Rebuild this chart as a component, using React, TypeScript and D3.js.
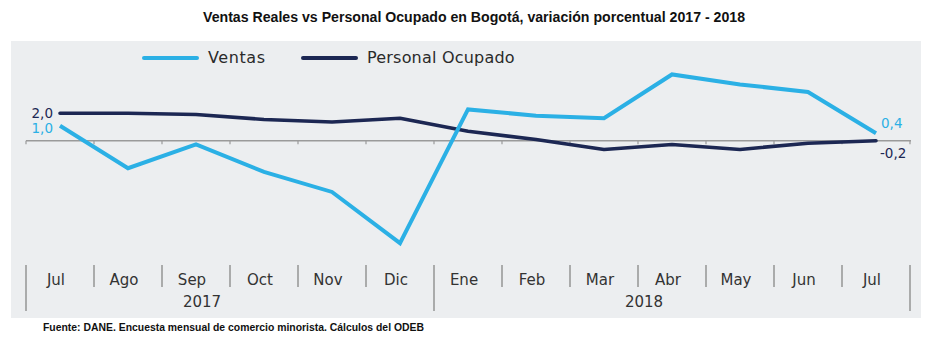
import React from "react";
import * as d3 from "d3";

const months = ["Jul", "Ago", "Sep", "Oct", "Nov", "Dic", "Ene", "Feb", "Mar", "Abr", "May", "Jun", "Jul"];
const monthKeys = months.map((m, i) => `${m}-${i}`);
const years = [
  { label: "2017", from: 0, to: 5 },
  { label: "2018", from: 6, to: 12 },
];
const ventas = [1.0, -2.4, -0.5, -2.7, -4.3, -8.4, 2.3, 1.8, 1.6, 5.1, 4.3, 3.7, 0.4];
const personal = [2.0, 2.0, 1.9, 1.5, 1.3, 1.6, 0.55, -0.1, -0.9, -0.5, -0.9, -0.4, -0.2];
const axisValue = -0.2;

const W = 934;
const H = 337;
const BLUE = "#2bb0e5";
const NAVY = "#1c2753";
const GRAY = "#9a9a9a";
const FONT = "'DejaVu Sans', sans-serif";
const fmt = (v: number) => d3.format(".1f")(v).replace(".", ",").replace("\u2212", "-");

export default function App() {
  const x = d3.scaleBand<string>().domain(monthKeys).range([26, 910]).padding(0);
  const bw = x.bandwidth();
  const cx = (i: number) => (x(monthKeys[i]) as number) + bw / 2;
  const y = d3.scaleLinear().domain([-8.4, 5.1]).range([243.2, 74.45]);

  const line = d3
    .line<number>()
    .x((_, i) => cx(i))
    .y((d) => y(d));

  const axisY = y(axisValue);
  const boundaries = d3.range(months.length + 1).map((i) => 26 + i * bw);
  const longSeps = [0, 6, 13];

  return (
    <svg width={W} height={H} style={{ position: "absolute", left: 0, top: 0 }}>
      <rect x={0} y={0} width={W} height={H} fill="#ffffff" />
      <text
        x={474}
        y={22}
        textAnchor="middle"
        fontFamily="'Liberation Sans Narrow', 'Liberation Sans', sans-serif"
        fontWeight="bold"
        fontSize={14}
        fill="#111"
        textLength={542}
        lengthAdjust="spacingAndGlyphs"
      >
        Ventas Reales vs Personal Ocupado en Bogotá, variación porcentual 2017 - 2018
      </text>
      <rect x={11} y={41} width={910} height={277} fill="#eceef0" />

      {/* legend */}
      <line x1={144} x2={197} y1={58} y2={58} stroke={BLUE} strokeWidth={4} strokeLinecap="round" />
      <text x={208} y={63} fontFamily={FONT} fontSize={16} fill="#2a2a2a" letterSpacing={0.6}>
        Ventas
      </text>
      <line x1={303} x2={356} y1={58} y2={58} stroke={NAVY} strokeWidth={4} strokeLinecap="round" />
      <text x={367} y={63} fontFamily={FONT} fontSize={16} fill="#2a2a2a" letterSpacing={0.2}>
        Personal Ocupado
      </text>

      {/* axis line */}
      <line x1={26} x2={911} y1={axisY} y2={axisY} stroke={GRAY} strokeWidth={1.5} />
      {boundaries.map((bx, i) => (
        <line key={`t${i}`} x1={bx} x2={bx} y1={axisY} y2={axisY + 3.5} stroke={GRAY} strokeWidth={1.2} />
      ))}

      {/* lines */}
      <path d={line(personal) || ""} fill="none" stroke={NAVY} strokeWidth={3.6} strokeLinejoin="round" strokeLinecap="round" />
      <path d={line(ventas) || ""} fill="none" stroke={BLUE} strokeWidth={4} strokeLinejoin="miter" strokeLinecap="butt" />

      {/* value labels */}
      <text x={53} y={118} textAnchor="end" fontFamily={FONT} fontSize={13.5} fill={NAVY}>
        {fmt(personal[0])}
      </text>
      <text x={53} y={133} textAnchor="end" fontFamily={FONT} fontSize={13.5} fill={BLUE}>
        {fmt(ventas[0])}
      </text>
      <text x={881} y={128} fontFamily={FONT} fontSize={13.5} fill={BLUE}>
        {fmt(ventas[12])}
      </text>
      <text x={880} y={158} fontFamily={FONT} fontSize={13.5} fill={NAVY}>
        {fmt(personal[12])}
      </text>

      {/* category axis */}
      {boundaries.map((bx, i) => (
        <line
          key={`s${i}`}
          x1={bx}
          x2={bx}
          y1={265}
          y2={longSeps.includes(i) ? 311 : 287}
          stroke={GRAY}
          strokeWidth={1.6}
        />
      ))}
      {months.map((m, i) => (
        <text key={`m${i}`} x={cx(i) - 4} y={285} textAnchor="middle" fontFamily={FONT} fontSize={15} fill="#333">
          {m}
        </text>
      ))}
      {years.map((yr) => (
        <text
          key={yr.label}
          x={((x(monthKeys[yr.from]) as number) + (x(monthKeys[yr.to]) as number) + bw) / 2 - 28}
          y={307}
          textAnchor="middle"
          fontFamily={FONT}
          fontSize={15}
          fill="#333"
        >
          {yr.label}
        </text>
      ))}

      <text
        x={43}
        y={331}
        fontFamily="'Liberation Sans', sans-serif"
        fontWeight="bold"
        fontSize={10}
        fill="#111"
        textLength={381}
        lengthAdjust="spacingAndGlyphs"
      >
        Fuente: DANE. Encuesta mensual de comercio minorista. Cálculos del ODEB
      </text>
    </svg>
  );
}
